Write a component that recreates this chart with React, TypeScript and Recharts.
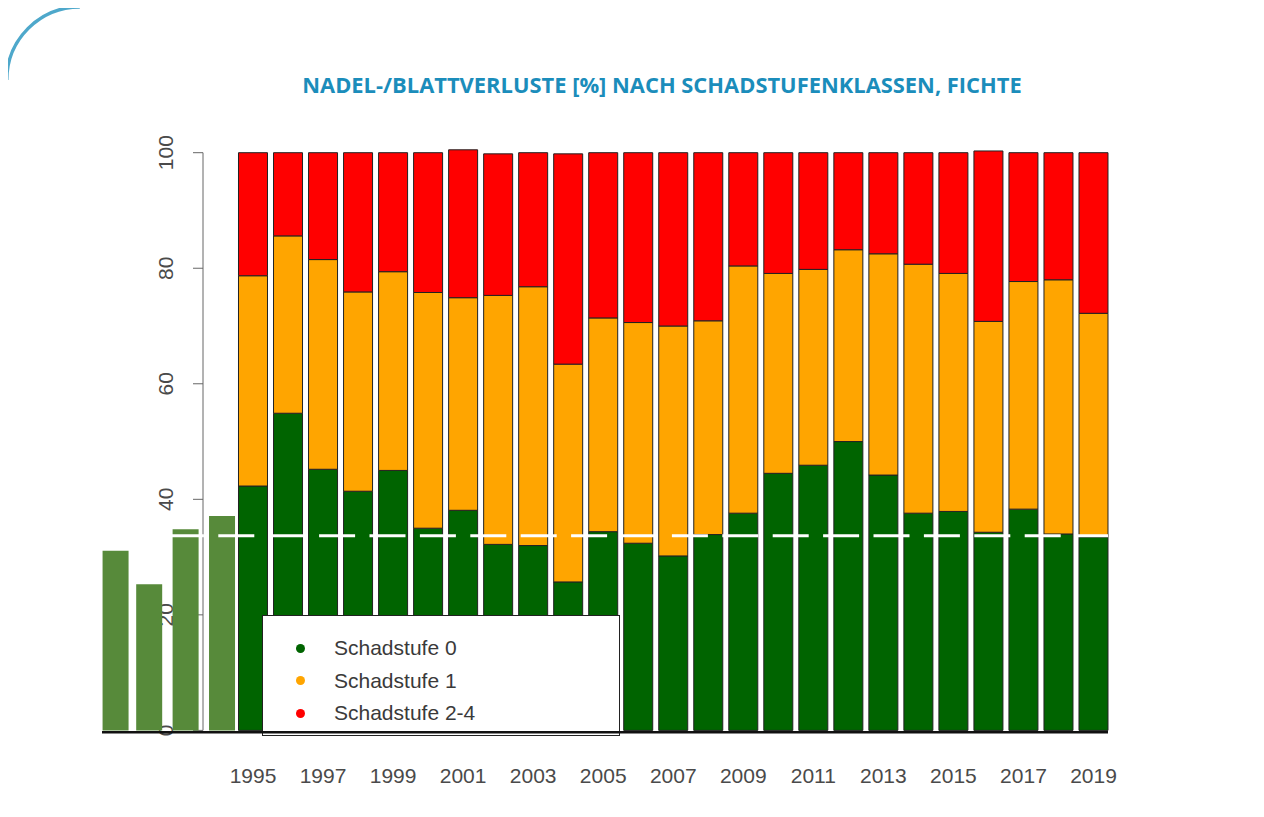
import React from 'react';
import { ComposedChart, Bar, XAxis, YAxis, ReferenceLine, Legend } from 'recharts';

// ---------- data ----------
const years = [1995, 1996, 1997, 1998, 1999, 2000, 2001, 2002, 2003, 2004, 2005, 2006, 2007, 2008, 2009, 2010, 2011, 2012, 2013, 2014, 2015, 2016, 2017, 2018, 2019];
const schadstufe0 = [42.3, 54.9, 45.2, 41.4, 45.0, 35.0, 38.1, 32.2, 32.0, 25.7, 34.4, 32.4, 30.2, 33.9, 37.6, 44.5, 45.9, 50.0, 44.2, 37.6, 37.9, 34.3, 38.3, 34.0, 33.5];
const schadstufe1 = [36.4, 30.7, 36.3, 34.5, 34.4, 40.8, 36.8, 43.1, 44.8, 37.7, 37.0, 38.2, 39.8, 37.0, 42.8, 34.6, 33.9, 33.2, 38.3, 43.1, 41.2, 36.5, 39.4, 44.0, 38.7];
const schadstufe24 = [21.3, 14.4, 18.5, 24.1, 20.6, 24.2, 25.6, 24.5, 23.2, 36.4, 28.6, 29.4, 30.0, 29.1, 19.6, 20.9, 20.2, 16.8, 17.5, 19.3, 20.9, 29.5, 22.3, 22.0, 27.8];

// overlaid olive bars left of the axis
const extraPositions = [1991.07, 1992.03, 1993.07, 1994.11];
const extraValues = [31.1, 25.3, 34.8, 37.1];

const referenceLevel = 33.7;
const xTicks = [1995, 1997, 1999, 2001, 2003, 2005, 2007, 2009, 2011, 2013, 2015, 2017, 2019];
const yTicks = [0, 20, 40, 60, 80, 100];
const seriesKeys = ['s0', 's1', 's2'];
const seriesNames = ['Schadstufe 0', 'Schadstufe 1', 'Schadstufe 2-4'];
const seriesColors = ['#006400', '#FFA500', '#FF0000'];
const title = 'NADEL-/BLATTVERLUSTE [%] NACH SCHADSTUFENKLASSEN, FICHTE';

const mainData = years.map((year, i) => ({
  year,
  s0: schadstufe0[i],
  s1: schadstufe1[i],
  s2: schadstufe24[i],
}));
const extraData = extraPositions.map((x, i) => ({ x, v: extraValues[i] }));

// ---------- layout ----------
const W = 1248;
const H = 801;
const Y_DOMAIN: [number, number] = [-0.3, 100.6];
const PLOT_TOP = 141.23;
const PLOT_BOTTOM = 724.13;
const PLOT_RIGHT_MARGIN = 148;
const MAIN_X_DOMAIN: [number, number] = [1993.572, 2019.414];
const OVER_X_DOMAIN: [number, number] = [1990.688, 2019.414];
const FONT = '"Liberation Sans", Arial, Helvetica, sans-serif';
const FRAME = '#4ea8cb';

const YTick = (props: any) => {
  const { x, y, payload } = props;
  return (
    <text
      x={x}
      y={y}
      transform={`rotate(-90 ${x} ${y})`}
      textAnchor="middle"
      dominantBaseline="central"
      fontSize={21}
      fill="#4a4a4a"
      fontFamily={FONT}
    >
      {payload.value}
    </text>
  );
};

const LegendBox = () => (
  <div
    style={{
      boxSizing: 'border-box',
      width: 358,
      height: 121,
      background: '#fff',
      border: '1.5px solid #222',
      position: 'relative',
      fontFamily: FONT,
    }}
  >
    {seriesNames.map((name, i) => (
      <div
        key={name}
        style={{
          position: 'absolute',
          left: 0,
          top: 16 + i * 32.7,
          height: 32,
          display: 'flex',
          alignItems: 'center',
        }}
      >
        <span
          style={{
            display: 'inline-block',
            width: 9,
            height: 9,
            borderRadius: '50%',
            background: seriesColors[i],
            marginLeft: 33,
          }}
        />
        <span style={{ marginLeft: 29, fontSize: 21, color: '#3a3a3a', lineHeight: '32px' }}>{name}</span>
      </div>
    ))}
  </div>
);

export default function App() {
  return (
    <div style={{ position: 'relative', width: W, height: H }}>
      {/* title */}
      <div
        style={{
          position: 'absolute',
          left: 154,
          top: 66,
          width: 1000,
          textAlign: 'center',
          fontFamily: '"Open Sans", sans-serif',
          fontWeight: 700,
          fontSize: 21.9,
          lineHeight: '21.9px',
          color: '#1b8dbb',
          whiteSpace: 'nowrap',
        }}
      >
        {title}
      </div>

      {/* main chart */}
      <div style={{ position: 'absolute', left: 0, top: 0 }}>
        <ComposedChart
          width={W}
          height={H}
          data={mainData}
          margin={{ top: PLOT_TOP, right: PLOT_RIGHT_MARGIN, left: 135, bottom: H - PLOT_BOTTOM - 50 }}
        >
          <XAxis
            dataKey="year"
            type="number"
            domain={MAIN_X_DOMAIN}
            ticks={xTicks}
            interval={0}
            height={50}
            axisLine={false}
            tickLine={false}
            tickSize={0}
            tickMargin={36}
            tick={{ fontSize: 21, fill: '#4a4a4a', fontFamily: FONT }}
          />
          <YAxis
            type="number"
            domain={Y_DOMAIN}
            ticks={yTicks}
            interval={0}
            width={60}
            axisLine={false}
            tickLine={{ stroke: '#666' }}
            tickSize={10}
            tickMargin={27}
            tick={<YTick />}
          />
          {seriesKeys.map((key, i) => (
            <Bar
              key={key}
              dataKey={key}
              name={seriesNames[i]}
              stackId="a"
              fill={seriesColors[i]}
              stroke="#222"
              strokeWidth={1}
              barSize={29}
              isAnimationActive={false}
            />
          ))}
          <ReferenceLine
            segment={[
              { x: MAIN_X_DOMAIN[0], y: yTicks[0] },
              { x: MAIN_X_DOMAIN[0], y: yTicks[yTicks.length - 1] },
            ]}
            stroke="#666"
            strokeWidth={1}
            ifOverflow="visible"
          />
          <Legend
            layout="vertical"
            align="center"
            verticalAlign="middle"
            content={<LegendBox />}
            wrapperStyle={{ left: 254, top: 607, width: 358, height: 121 }}
          />
        </ComposedChart>
      </div>

      {/* overlay chart: olive bars, dashed reference line, baseline */}
      <div style={{ position: 'absolute', left: 0, top: 0, pointerEvents: 'none' }}>
        <ComposedChart
          width={W}
          height={H}
          data={extraData}
          margin={{ top: PLOT_TOP, right: PLOT_RIGHT_MARGIN, left: 94, bottom: H - PLOT_BOTTOM }}
        >
          <XAxis dataKey="x" type="number" domain={OVER_X_DOMAIN} hide />
          <YAxis type="number" domain={Y_DOMAIN} hide />
          <Bar dataKey="v" fill="#578a3a" barSize={26} isAnimationActive={false} />
          <ReferenceLine
            y={referenceLevel}
            stroke="#ffffff"
            strokeWidth={3}
            strokeDasharray="36 14.4"
            strokeDashoffset={34.9}
            ifOverflow="visible"
          />
          <ReferenceLine y={Y_DOMAIN[0]} stroke="#111" strokeWidth={2.5} ifOverflow="visible" />
        </ComposedChart>
      </div>

      {/* frame: rounded corner + straight edges */}
      <svg
        width={1262}
        height={808}
        style={{ position: 'absolute', left: -8, top: -8, pointerEvents: 'none', overflow: 'visible' }}
      >
        <path d="M6.8,80 A73,73 0 0 1 79.8,7" fill="none" stroke={FRAME} strokeWidth={3.4} />
      </svg>
      <div style={{ position: 'absolute', left: 71, top: -3, width: 1183, height: 3.4, background: FRAME, pointerEvents: 'none' }} />
      <div style={{ position: 'absolute', left: 1252, top: -3, width: 2, height: 800, background: FRAME, opacity: 0.6, pointerEvents: 'none' }} />
      <div style={{ position: 'absolute', left: -3, top: 71, width: 3.4, height: 730, background: FRAME, pointerEvents: 'none' }} />
    </div>
  );
}
